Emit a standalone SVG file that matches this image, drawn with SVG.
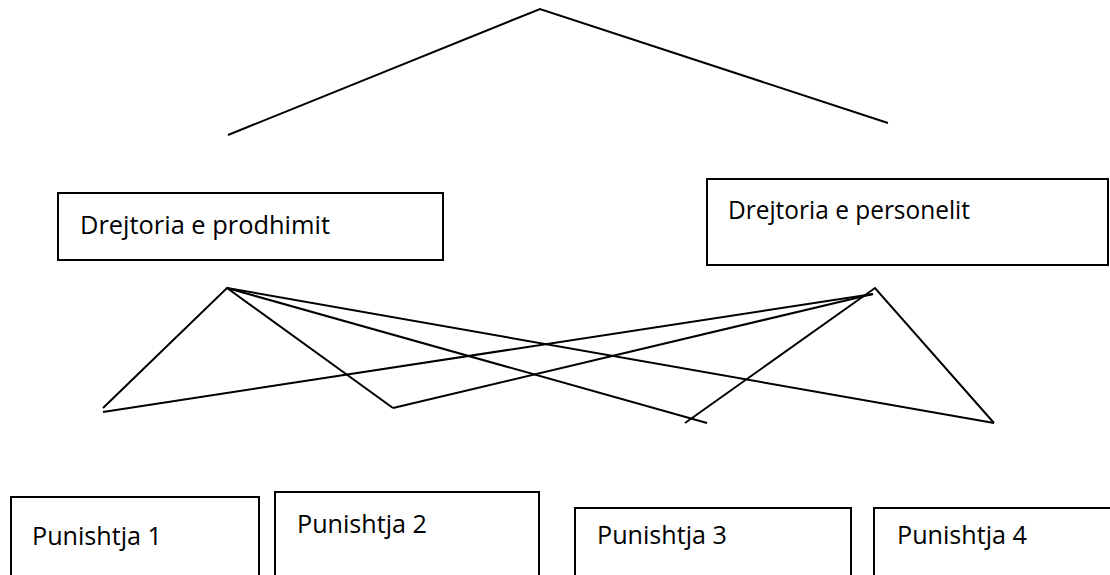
<svg xmlns="http://www.w3.org/2000/svg" width="1110" height="575" viewBox="0 0 1110 575">
<style>
.box{fill:#fff;stroke:#000;stroke-width:2}
.ln{fill:none;stroke:#000;stroke-width:2;stroke-linejoin:miter}
.t{font-family:"Open Sans","Noto Sans",sans-serif;font-size:26px;fill:#000}
</style>
<rect width="1110" height="575" fill="#fff"/>
<g id="connectors">
<polyline class="ln" points="228,135 540,9 888,123"/>
<polyline class="ln" points="103,408 227,288 393,408"/>
<line class="ln" x1="227" y1="288" x2="707" y2="423"/>
<line class="ln" x1="227" y1="288" x2="994" y2="423"/>
<polyline class="ln" points="685,423 875,288 994,423"/>
<line class="ln" x1="103" y1="412" x2="873" y2="294"/>
<line class="ln" x1="393" y1="408" x2="873" y2="294"/>
</g>
<g id="n-prodhimit">
<rect class="box" x="58" y="193" width="385" height="67"/>
<text class="t" x="80" y="234" textLength="250" lengthAdjust="spacingAndGlyphs">Drejtoria e prodhimit</text>
</g>
<g id="n-personelit">
<rect class="box" x="707" y="179" width="401" height="86"/>
<text class="t" x="728" y="219" textLength="242" lengthAdjust="spacingAndGlyphs">Drejtoria e personelit</text>
</g>
<g id="n-p1">
<rect class="box" x="11" y="497" width="248" height="90"/>
<text class="t" x="32" y="545" textLength="130" lengthAdjust="spacingAndGlyphs">Punishtja 1</text>
</g>
<g id="n-p2">
<rect class="box" x="275" y="492" width="264" height="95"/>
<text class="t" x="297" y="533" textLength="130" lengthAdjust="spacingAndGlyphs">Punishtja 2</text>
</g>
<g id="n-p3">
<rect class="box" x="575" y="508" width="276" height="80"/>
<text class="t" x="597" y="544" textLength="130" lengthAdjust="spacingAndGlyphs">Punishtja 3</text>
</g>
<g id="n-p4">
<rect class="box" x="874" y="508" width="240" height="80"/>
<text class="t" x="897" y="544" textLength="130" lengthAdjust="spacingAndGlyphs">Punishtja 4</text>
</g>
</svg>
